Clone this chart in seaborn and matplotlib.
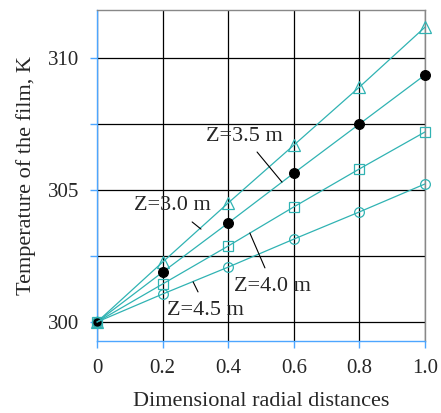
import matplotlib
matplotlib.use("Agg")
import matplotlib.pyplot as plt
import seaborn as sns
import pandas as pd

x_vals = [0.0, 0.2, 0.4, 0.6, 0.8, 1.0]
z30 = [300.0, 302.27, 304.51, 306.70, 308.90, 311.17]
z35 = [300.0, 301.89, 303.75, 305.64, 307.50, 309.36]
z40 = [300.0, 301.44, 302.88, 304.36, 305.80, 307.20]
z45 = [300.0, 301.06, 302.08, 303.14, 304.17, 305.23]
series_names = ["Z=3.0 m", "Z=3.5 m", "Z=4.0 m", "Z=4.5 m"]
xtick_vals = [0, 0.2, 0.4, 0.6, 0.8, 1.0]
xtick_labels = ["0", "0.2", "0.4", "0.6", "0.8", "1.0"]
ytick_vals = [300, 302.5, 305, 307.5, 310]
ytick_labels = ["300", "", "305", "", "310"]

sns.set_theme(style="white")
plt.rcParams["font.family"] = ["Liberation Serif", "DejaVu Serif"]

teal = "#30b3b3"
blue = "#4da6ff"

rows = []
for name, vals in zip(series_names, [z30, z35, z40, z45]):
    for xv, yv in zip(x_vals, vals):
        rows.append({"x": xv, "T": yv, "Z": name})
df = pd.DataFrame(rows)

fig = plt.figure(figsize=(4.41, 4.13), dpi=100)
ax = fig.add_axes([0.22, 0.1743, 0.7437, 0.8015])

styles = {
    "Z=3.0 m": dict(marker="^", mfc="none", mec=teal, ms=8),
    "Z=3.5 m": dict(marker="o", mfc="black", mec="black", ms=7),
    "Z=4.0 m": dict(marker="s", mfc="none", mec=teal, ms=7),
    "Z=4.5 m": dict(marker="o", mfc="none", mec=teal, ms=7),
}
for name in series_names:
    sub = df[df["Z"] == name]
    sns.lineplot(data=sub, x="x", y="T", ax=ax, color=teal, lw=0.9,
                 marker=styles[name]["marker"], markersize=styles[name]["ms"],
                 markerfacecolor=styles[name]["mfc"], markeredgecolor=styles[name]["mec"],
                 markeredgewidth=0.9, legend=False, zorder=3, clip_on=False)

ax.set_xlim(0, 1.0)
ax.set_ylim(299.28, 311.82)
ax.set_xticks(xtick_vals)
ax.set_xticklabels(xtick_labels)
ax.set_yticks(ytick_vals)
ax.set_yticklabels(ytick_labels)
ax.grid(True, color="black", lw=0.9)
ax.set_axisbelow(True)

for s in ["left", "bottom"]:
    ax.spines[s].set_color(blue)
    ax.spines[s].set_linewidth(1.0)
for s in ["top", "right"]:
    ax.spines[s].set_color("#888888")
    ax.spines[s].set_linewidth(1.0)
ax.tick_params(axis="both", direction="out", length=5, width=1.0, color=blue,
               labelsize=15, pad=8, bottom=True, left=True)

ax.set_xlabel("Dimensional radial distances", fontsize=16, labelpad=10)
ax.set_ylabel("Temperature of the film, K", fontsize=16, labelpad=8)

# label text positions and leader lines (start, end) in data coordinates
ann = [
    ("Z=3.5 m", (0.448, 307.01), (0.488, 306.44), (0.564, 305.30)),
    ("Z=3.0 m", (0.229, 304.43), (0.290, 303.79), (0.317, 303.52)),
    ("Z=4.0 m", (0.534, 301.33), (0.466, 303.37), (0.512, 302.05)),
    ("Z=4.5 m", (0.332, 300.45), (0.293, 301.52), (0.308, 301.14)),
]
for txt, tpos, p0, p1 in ann:
    ax.text(tpos[0], tpos[1], txt, fontsize=16, ha="center", va="center", zorder=5)
    ax.plot([p0[0], p1[0]], [p0[1], p1[1]], color="black", lw=0.8, zorder=4)

fig.savefig("out.png", dpi=100)
